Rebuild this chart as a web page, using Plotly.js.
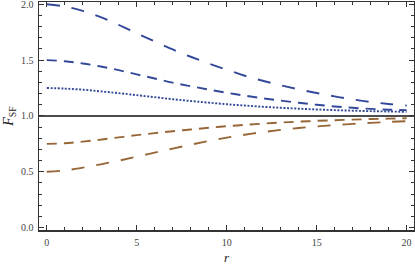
<!DOCTYPE html>
<html>
<head>
<meta charset="utf-8">
<script src="https://cdn.plot.ly/plotly-3.0.1.min.js"></script>
<style>html,body{margin:0;padding:0;background:#fff;}#chart{width:415px;height:270px;}</style>
</head>
<body>
<div id="chart"></div>
<script>
// r grid
const r = [0,1,2,3,4,5,6,7,8,9,10,11,12,13,14,15,16,17,18,19,20];
// F_SF series
const fStart200 = [2.00,1.98,1.94,1.885,1.815,1.74,1.667,1.595,1.53,1.47,1.414,1.36,1.315,1.275,1.238,1.205,1.175,1.148,1.125,1.107,1.093];
const fStart150 = [1.50,1.49,1.47,1.443,1.41,1.372,1.335,1.298,1.266,1.236,1.208,1.182,1.158,1.137,1.118,1.100,1.085,1.073,1.063,1.056,1.052];
const fStart125 = [1.25,1.245,1.235,1.22,1.204,1.186,1.168,1.15,1.134,1.119,1.105,1.093,1.082,1.073,1.065,1.058,1.052,1.047,1.043,1.04,1.037];
const fStart075 = [0.75,0.755,0.77,0.788,0.808,0.828,0.846,0.863,0.879,0.894,0.908,0.92,0.931,0.941,0.949,0.956,0.962,0.967,0.972,0.976,0.979];
const fStart050 = [0.50,0.512,0.537,0.567,0.60,0.635,0.672,0.708,0.743,0.776,0.806,0.832,0.855,0.875,0.892,0.906,0.918,0.929,0.938,0.946,0.953];
const refLevel = 1.0;
const xTicks = [0,5,10,15,20];
const yTicks = [0.0,0.5,1.0,1.5,2.0];

const blue = '#34489a';
const brown = '#976636';
function tr(y, color, dash, w) {
  return {x: r, y: y, type: 'scatter', mode: 'lines', line: {color: color, width: w, dash: dash, shape: 'spline', smoothing: 1}, hoverinfo: 'skip', showlegend: false};
}
const data = [
  tr(fStart200, blue, '13px,12px', 1.9),
  tr(fStart150, blue, '10px,7px', 1.9),
  tr(fStart125, blue, '2px,1.6px', 1.9),
  tr(fStart075, brown, '10px,7px', 1.9),
  tr(fStart050, brown, '13px,12px', 1.9)
];
const axisCommon = {
  showline: true, linecolor: '#333', linewidth: 1.5, mirror: 'allticks',
  ticks: 'inside', ticklen: 5, tickwidth: 1, tickcolor: '#333',
  showgrid: false, zeroline: false,
  tickfont: {family: 'Liberation Serif, serif', size: 10, color: '#444'},
  tickmode: 'array', ticklabeloverflow: 'allow',
  minor: {ticks: 'inside', ticklen: 3, tickwidth: 1, tickcolor: '#333', showgrid: false}
};
const layout = {
  width: 415, height: 270,
  margin: {l: 39, r: 1, t: 2, b: 40},
  paper_bgcolor: '#fff', plot_bgcolor: '#fff',
  xaxis: Object.assign({}, axisCommon, {
    range: [-0.43, 20.41], tickvals: xTicks, ticktext: xTicks.map(v => String(v)),
    minor: Object.assign({}, axisCommon.minor, {dtick: 1, tick0: 0}),
    ticklabelstandoff: 2,
    title: {text: '<i>r</i>', font: {family: 'Liberation Serif, serif', size: 13, color: '#222'}, standoff: 6}
  }),
  yaxis: Object.assign({}, axisCommon, {
    range: [-0.021, 2.02], tickvals: yTicks, ticktext: yTicks.map(v => v.toFixed(1)),
    minor: Object.assign({}, axisCommon.minor, {dtick: 0.1, tick0: 0}),
    ticklabelstandoff: 2,
    title: {text: '<i>F</i><sub>SF</sub>', font: {family: 'Liberation Serif, serif', size: 14, color: '#222'}, standoff: 4}
  }),
  shapes: [{type: 'line', xref: 'paper', x0: 0, x1: 1, yref: 'y', y0: refLevel, y1: refLevel, line: {color: '#111', width: 1.5}, layer: 'below'}]
};
Plotly.newPlot('chart', data, layout, {staticPlot: true, displayModeBar: false});
</script>
</body>
</html>
